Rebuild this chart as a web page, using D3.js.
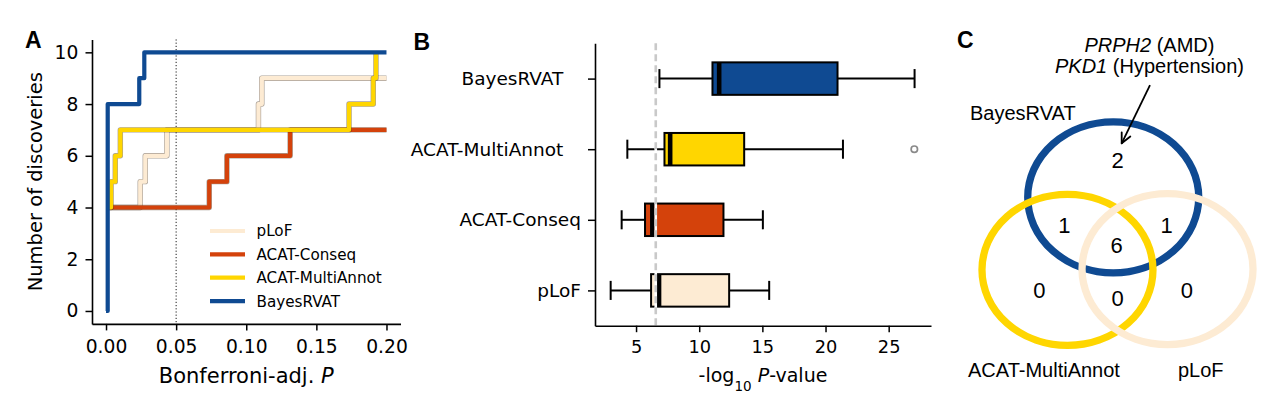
<!DOCTYPE html>
<html><head><meta charset="utf-8">
<script src="https://cdn.jsdelivr.net/npm/d3@7"></script>
<style>body{margin:0;background:#fff}</style>
</head><body>
<svg id="chart" width="1280" height="394" xmlns="http://www.w3.org/2000/svg"></svg>
<script>
// ---------------- DATA ----------------
// Panel A: Bonferroni-adjusted P of each discovery (sorted), per method
const methods = ["pLoF", "ACAT-Conseq", "ACAT-MultiAnnot", "BayesRVAT"];
const pLoF_p   = [0, 0, 0, 0, 0.0244, 0.028, 0.0434, 0.1087, 0.1111];
const conseq_p = [0, 0, 0, 0, 0.0736, 0.0862, 0.1313];
const multi_p  = [0, 0, 0, 0, 0.0036, 0.0066, 0.0102, 0.1733, 0.1906, 0.1925];
const bayes_p  = [0, 0, 0, 0, 0, 0, 0, 0.0012, 0.0237, 0.0273];
const xTicksA = [0, 0.05, 0.10, 0.15, 0.20];
const yTicksA = [0, 2, 4, 6, 8, 10];
const xMaxA = 0.20;
const thresholdA = 0.05;

// Panel B: box statistics of -log10 P (top to bottom)
const boxCats   = ["BayesRVAT", "ACAT-MultiAnnot", "ACAT-Conseq", "pLoF"];
const whiskLo   = [6.85, 4.31, 3.86, 2.99];
const q1        = [11.05, 7.25, 5.71, 6.19];
const medians   = [11.58, 7.70, 6.29, 6.82];
const q3        = [20.95, 13.56, 11.92, 12.37];
const whiskHi   = [27.05, 21.38, 15.04, 15.54];
const outliers  = [[], [27.03], [], []];
const xTicksB   = [5, 10, 15, 20, 25];
const thresholdB = 6.56;

// Panel C: Venn diagram
const vennSets   = ["BayesRVAT", "ACAT-MultiAnnot", "pLoF"];
const vennCounts = ["2", "1", "1", "6", "0", "0", "0"];
const vennRegionPos = [[0.002, 1.455], [-0.622, 0.594], [0.575, 0.594], [-0.01, 0.329], [-0.915, -0.267], [0.0, -0.377], [0.81, -0.267]];
const vennCenters = [[-0.05, 0.96], [-0.585, 0.0], [0.585, 0.01]];
const annotLines = [["PRPH2", " (AMD)"], ["PKD1", " (Hypertension)"]];

// ---------------- STYLES ----------------
const col = {"pLoF": "#fdebd3", "ACAT-Conseq": "#d4420b", "ACAT-MultiAnnot": "#ffd600", "BayesRVAT": "#0f4a92"};
const FONT = "DejaVu Sans";
const ARIAL = "Liberation Sans, Arial, sans-serif";

const svg = d3.select("#chart");

// panel letters
[["A", 25, 48], ["B", 413.5, 50], ["C", 957, 48]].forEach(([t, x, y]) =>
  svg.append("text").attr("x", x).attr("y", y).text(t)
    .attr("font-family", ARIAL).attr("font-weight", "bold").attr("font-size", 23).attr("fill", "#000"));

// ================= PANEL A =================
const xA = d3.scaleLinear().domain([-0.01, 0.21]).range([92, 400.5]);
const yA = d3.scaleLinear().domain([-0.5, 10.5]).range([323.9, 39.4]);
const gA = svg.append("g");

// threshold dotted line
gA.append("line")
  .attr("x1", xA(thresholdA)).attr("x2", xA(thresholdA))
  .attr("y1", yA(10.5)).attr("y2", yA(-0.5))
  .attr("stroke", "#000").attr("stroke-width", 0.9).attr("stroke-dasharray", "1.2,2");

const seriesA = [pLoF_p, conseq_p, multi_p, bayes_p];
const stepLine = d3.line().x(d => xA(d[0])).y(d => yA(d[1])).curve(d3.curveStepAfter);
seriesA.forEach((ps, k) => {
  const m = methods[k];
  const nZero = ps.filter(p => p === 0).length;
  // BayesRVAT is drawn from the origin; the others are hidden under it at x=0
  const pts = m === "BayesRVAT" ? [[0, 0]] : [[0, nZero]];
  ps.forEach((p, i) => { if (p > 0) pts.push([p, i + 1]); });
  if (m !== "ACAT-MultiAnnot") pts.push([xMaxA, ps.length]);
  if (m !== "BayesRVAT") {
    gA.append("path").attr("d", stepLine(pts)).attr("fill", "none")
      .attr("stroke", "rgba(60,40,20,0.45)").attr("stroke-width", 5.4).attr("stroke-linejoin", "round");
  }
  gA.append("path").attr("d", stepLine(pts)).attr("fill", "none")
    .attr("stroke", col[m]).attr("stroke-width", 4.2).attr("stroke-linejoin", "round");
});

// axes A
const axA_x = gA.append("g").attr("transform", `translate(0,${yA(-0.5)})`)
  .call(d3.axisBottom(xA).tickValues(xTicksA).tickFormat(d3.format(".2f")).tickSize(6.5).tickSizeOuter(0).tickPadding(9.3));
const axA_y = gA.append("g").attr("transform", `translate(${xA(-0.01)},0)`)
  .call(d3.axisLeft(yA).tickValues(yTicksA).tickFormat(d3.format("d")).tickSize(6.5).tickSizeOuter(0).tickPadding(7.2));
[axA_x, axA_y].forEach(a => {
  a.select(".domain").attr("stroke-width", 1.6).attr("stroke", "#000");
  a.selectAll(".tick line").attr("stroke-width", 1.5).attr("stroke", "#000");
  a.selectAll("text").attr("font-family", FONT).attr("font-size", 18.7).attr("fill", "#000");
});

// legend A
const legA = gA.append("g");
methods.forEach((m, i) => {
  const y = 231 + i * 23.35;
  legA.append("line").attr("x1", 210).attr("x2", 245).attr("y1", y).attr("y2", y)
    .attr("stroke", col[m]).attr("stroke-width", 4.2);
  legA.append("text").attr("x", 256.5).attr("y", y).attr("dy", "0.36em").text(m)
    .attr("font-family", FONT).attr("font-size", 15.2).attr("fill", "#000");
});

// axis labels A
const xlabA = gA.append("text").attr("x", (xA.range()[0] + xA.range()[1]) / 2).attr("y", 383)
  .attr("text-anchor", "middle").attr("font-family", FONT).attr("font-size", 21).attr("fill", "#000");
xlabA.append("tspan").text("Bonferroni-adj. ");
xlabA.append("tspan").attr("font-style", "italic").text("P");
gA.append("text").attr("transform", "translate(41.5,181.7) rotate(-90)")
  .attr("text-anchor", "middle").attr("font-family", FONT).attr("font-size", 19.5).attr("fill", "#000")
  .text("Number of discoveries");

// ================= PANEL B =================
const xB = d3.scaleLinear().domain([1.75, 28.35]).range([595, 931]);
const yB = d3.scaleLinear().domain([0.5, 4.5]).range([325.7, 43.3]);
const posB = boxCats.map((c, i) => boxCats.length - i);
const gB = svg.append("g");
const unitB = yB(0) - yB(1);
const boxH = 0.46 * unitB, capH = 0.27 * unitB;

boxCats.forEach((c, i) => {
  const g = gB.append("g").attr("transform", `translate(0,${yB(posB[i])})`);
  g.append("line").attr("x1", xB(whiskLo[i])).attr("x2", xB(q1[i])).attr("y1", 0).attr("y2", 0).attr("stroke", "#000").attr("stroke-width", 2);
  g.append("line").attr("x1", xB(q3[i])).attr("x2", xB(whiskHi[i])).attr("y1", 0).attr("y2", 0).attr("stroke", "#000").attr("stroke-width", 2);
  [whiskLo[i], whiskHi[i]].forEach(v =>
    g.append("line").attr("x1", xB(v)).attr("x2", xB(v)).attr("y1", -capH / 2).attr("y2", capH / 2).attr("stroke", "#000").attr("stroke-width", 2));
  g.append("rect").attr("x", xB(q1[i])).attr("y", -boxH / 2).attr("width", xB(q3[i]) - xB(q1[i])).attr("height", boxH)
    .attr("fill", col[c]).attr("stroke", "#000").attr("stroke-width", 2);
  g.append("line").attr("x1", xB(medians[i])).attr("x2", xB(medians[i])).attr("y1", -boxH / 2).attr("y2", boxH / 2)
    .attr("stroke", "#000").attr("stroke-width", 4.6);
  outliers[i].forEach(v =>
    g.append("circle").attr("cx", xB(v)).attr("cy", 0).attr("r", 3.2).attr("fill", "none").attr("stroke", "#8a8a8a").attr("stroke-width", 1.7));
});

// threshold dashed line (on top)
gB.append("line").attr("x1", xB(thresholdB)).attr("x2", xB(thresholdB)).attr("y1", yB(4.5)).attr("y2", yB(0.5))
  .attr("stroke", "#fff").attr("stroke-width", 2.6);
gB.append("line").attr("x1", xB(thresholdB)).attr("x2", xB(thresholdB)).attr("y1", yB(4.5)).attr("y2", yB(0.5))
  .attr("stroke", "#c9c9c9").attr("stroke-width", 2.6).attr("stroke-dasharray", "7,4");

const axB_x = gB.append("g").attr("transform", `translate(0,${yB(0.5)})`)
  .call(d3.axisBottom(xB).tickValues(xTicksB).tickFormat(d3.format("d")).tickSize(6.5).tickSizeOuter(0).tickPadding(8));
const labB = {"BayesRVAT": "BayesRVAT\u00a0\u00a0\u00a0", "ACAT-MultiAnnot": "ACAT-MultiAnnot\u00a0\u00a0\u00a0", "ACAT-Conseq": "ACAT-Conseq", "pLoF": "pLoF"};
const axB_y = gB.append("g").attr("transform", `translate(${xB(1.75)},0)`)
  .call(d3.axisLeft(yB).tickValues(posB).tickFormat((v) => labB[boxCats[boxCats.length - v]]).tickSize(7).tickSizeOuter(0).tickPadding(7));
[axB_x, axB_y].forEach(a => {
  a.select(".domain").attr("stroke-width", 1.6).attr("stroke", "#000");
  a.selectAll(".tick line").attr("stroke-width", 1.5).attr("stroke", "#000");
  a.selectAll("text").attr("font-family", FONT).attr("fill", "#000");
});
axB_x.selectAll("text").attr("font-size", 17.8);
axB_y.selectAll("text").attr("font-size", 18.5);

const xlabB = gB.append("text").attr("x", (xB.range()[0] + xB.range()[1]) / 2).attr("y", 382)
  .attr("text-anchor", "middle").attr("font-family", FONT).attr("font-size", 19).attr("fill", "#000");
xlabB.append("tspan").text("-log");
xlabB.append("tspan").attr("dy", 9).attr("font-size", 13.5).text("10");
xlabB.append("tspan").attr("dy", -9).text("\u00a0");
xlabB.append("tspan").attr("font-style", "italic").text("P");
xlabB.append("tspan").text("-value");

// ================= PANEL C =================
const xC = d3.scaleLinear().domain([-1, 1]).range([1032, 1203]);
const yC = d3.scaleLinear().domain([-1, 1]).range([345.35, 194.35]);
const rx = xC(1) - xC(0), ry = yC(0) - yC(1);
const gC = svg.append("g");
vennSets.forEach((s, i) => {
  gC.append("ellipse").attr("cx", xC(vennCenters[i][0])).attr("cy", yC(vennCenters[i][1]))
    .attr("rx", rx).attr("ry", ry).attr("fill", "none").attr("stroke", col[s]).attr("stroke-width", 7.3);
});
vennCounts.forEach((t, i) => {
  gC.append("text").attr("x", xC(vennRegionPos[i][0])).attr("y", yC(vennRegionPos[i][1])).attr("dy", "0.36em")
    .attr("text-anchor", "middle").attr("font-family", ARIAL).attr("font-size", 22).attr("fill", "#000").text(t);
});
// set labels
const setLabelPos = [[-1.725, 1.991, "start"], [-0.86, -1.419, "middle"], [0.974, -1.419, "middle"]];
vennSets.forEach((s, i) => {
  gC.append("text").attr("x", xC(setLabelPos[i][0])).attr("y", yC(setLabelPos[i][1]))
    .attr("text-anchor", setLabelPos[i][2]).attr("font-family", ARIAL).attr("font-size", 20).attr("fill", "#000").text(s);
});
// annotation
const annotBase = [[0.374, 2.885], [0.374, 2.607]];
annotLines.forEach((ln, i) => {
  const t = gC.append("text").attr("x", xC(annotBase[i][0])).attr("y", yC(annotBase[i][1]))
    .attr("text-anchor", "middle").attr("font-family", ARIAL).attr("font-size", 20).attr("fill", "#000");
  t.append("tspan").attr("font-style", "italic").text(ln[0]);
  t.append("tspan").text(ln[1]);
});
// arrow
const arrowFrom = [0.38, 2.448], arrowTo = [0.049, 1.676];
const ax0 = xC(arrowFrom[0]), ay0 = yC(arrowFrom[1]), ax1 = xC(arrowTo[0]), ay1 = yC(arrowTo[1]);
gC.append("line").attr("x1", ax0).attr("y1", ay0).attr("x2", ax1).attr("y2", ay1).attr("stroke", "#000").attr("stroke-width", 1.8);
const ang = Math.atan2(ay1 - ay0, ax1 - ax0);
[0.45, -0.45].forEach(da => {
  gC.append("line").attr("x1", ax1).attr("y1", ay1)
    .attr("x2", ax1 - 11 * Math.cos(ang + da)).attr("y2", ay1 - 11 * Math.sin(ang + da))
    .attr("stroke", "#000").attr("stroke-width", 1.8).attr("stroke-linecap", "round");
});
</script>
</body></html>
